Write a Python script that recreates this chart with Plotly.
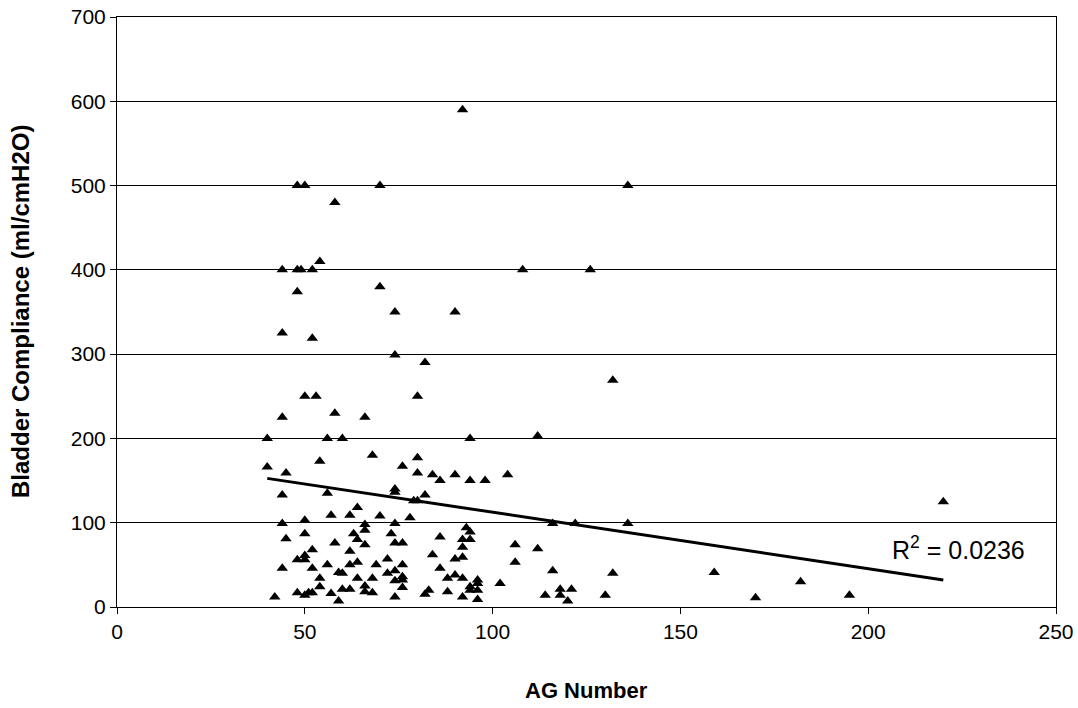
import numpy as np
import plotly.graph_objects as go

ag_number = [92, 48, 50, 70, 58, 136, 44, 48, 49, 52, 54, 108, 126, 70, 48, 74, 90, 44, 52, 74,
             82, 132, 50, 53, 80, 44, 58, 66, 40, 56, 60, 94, 112, 80, 76, 40, 45, 54, 68, 80,
             84, 86, 90, 94, 98, 104, 74, 44, 56, 64, 57, 62, 70, 44, 50, 66, 66, 50, 63, 45,
             64, 58, 66, 52, 62, 50, 48, 50, 56, 64, 62, 69, 44, 52, 59, 60, 54, 64, 68, 54,
             66, 48, 50, 51, 52, 57, 60, 62, 66, 68, 42, 59, 74, 82, 79, 80, 78, 74, 73, 74,
             76, 86, 93, 94, 92, 94, 92, 84, 90, 92, 72, 76, 72, 74, 86, 76, 76, 74, 88, 90,
             92, 96, 96, 76, 94, 83, 82, 88, 94, 96, 92, 74, 96, 106, 112, 106, 102, 116, 122, 136,
             116, 132, 159, 182, 118, 121, 114, 118, 130, 120, 170, 220, 195]
compliance = [590, 500, 500, 500, 480, 500, 400, 400, 400, 400, 410, 400, 400, 380, 374, 350, 350, 325, 319, 299,
              290, 269, 250, 250, 250, 225, 230, 225, 200, 200, 200, 200, 203, 177, 167, 166, 159, 173, 180, 159,
              157, 150, 157, 150, 150, 157, 140, 133, 135, 118, 109, 109, 108, 99, 103, 98, 91, 87, 87, 81,
              80, 76, 74, 68, 66, 61, 56, 56, 50, 53, 50, 50, 46, 46, 41, 40, 34, 34, 34, 24,
              25, 17, 14, 17, 17, 16, 21, 21, 18, 17, 12, 7, 136, 133, 126, 126, 106, 99, 87, 76,
              76, 83, 94, 89, 80, 80, 71, 62, 57, 59, 57, 50, 40, 43, 46, 36, 32, 31, 34, 38,
              34, 32, 28, 23, 24, 20, 15, 18, 20, 20, 12, 12, 9, 74, 69, 53, 28, 99, 99, 99,
              43, 40, 41, 30, 21, 21, 14, 14, 14, 7, 11, 125, 14]

x_ticks = [0, 50, 100, 150, 200, 250]
y_ticks = [0, 100, 200, 300, 400, 500, 600, 700]
r2_label = "R<sup>2</sup> = 0.0236"
x_title = "AG Number"
y_title = "Bladder Compliance (ml/cmH2O)"

x = np.array(ag_number, dtype=float)
y = np.array(compliance, dtype=float)
slope, intercept = np.polyfit(x, y, 1)
trend_x = np.array([x.min(), x.max()])
trend_y = intercept + slope * trend_x

FONT = "Liberation Sans, Arial"

fig = go.Figure()
fig.add_trace(go.Scatter(
    x=ag_number, y=compliance, mode="markers",
    marker=dict(symbol="triangle-up", size=10, color="black"),
    showlegend=False, cliponaxis=False, hoverinfo="skip",
))
fig.add_trace(go.Scatter(
    x=trend_x, y=trend_y, mode="lines",
    line=dict(color="black", width=3), showlegend=False, hoverinfo="skip",
))

fig.add_annotation(x=224, y=70, text=r2_label, showarrow=False,
                   font=dict(family=FONT, size=25, color="black"))
fig.add_annotation(xref="paper", yref="paper", x=0.5, y=-0.141, yanchor="middle",
                   text="<b>" + x_title + "</b>", showarrow=False,
                   font=dict(family=FONT, size=22, color="black"))
fig.add_annotation(xref="paper", yref="paper", x=-0.1033, y=0.5, xanchor="center",
                   yanchor="middle", textangle=-90,
                   text="<b>" + y_title + "</b>", showarrow=False,
                   font=dict(family=FONT, size=24, color="black"))

fig.update_layout(
    width=1078, height=708,
    margin=dict(l=117, r=22, t=17, b=101, autoexpand=False),
    plot_bgcolor="white", paper_bgcolor="white",
    font=dict(family=FONT, size=21, color="black"),
)
fig.update_xaxes(
    range=[0, 250], tickvals=x_ticks, showgrid=False, zeroline=False, automargin=False,
    showline=True, linecolor="black", linewidth=1, mirror=True,
    ticks="outside", ticklen=6, tickcolor="black",
)
fig.update_yaxes(
    range=[0, 700], tickvals=y_ticks, showgrid=True, gridcolor="black", gridwidth=1,
    zeroline=False, showline=True, linecolor="black", linewidth=1, mirror=True, automargin=False,
    ticks="outside", ticklen=6, tickcolor="black",
)

fig.write_html(
    "out.html",
    config={"displayModeBar": False},
    post_script="document.body.style.margin='0';document.body.style.overflow='hidden';",
)
